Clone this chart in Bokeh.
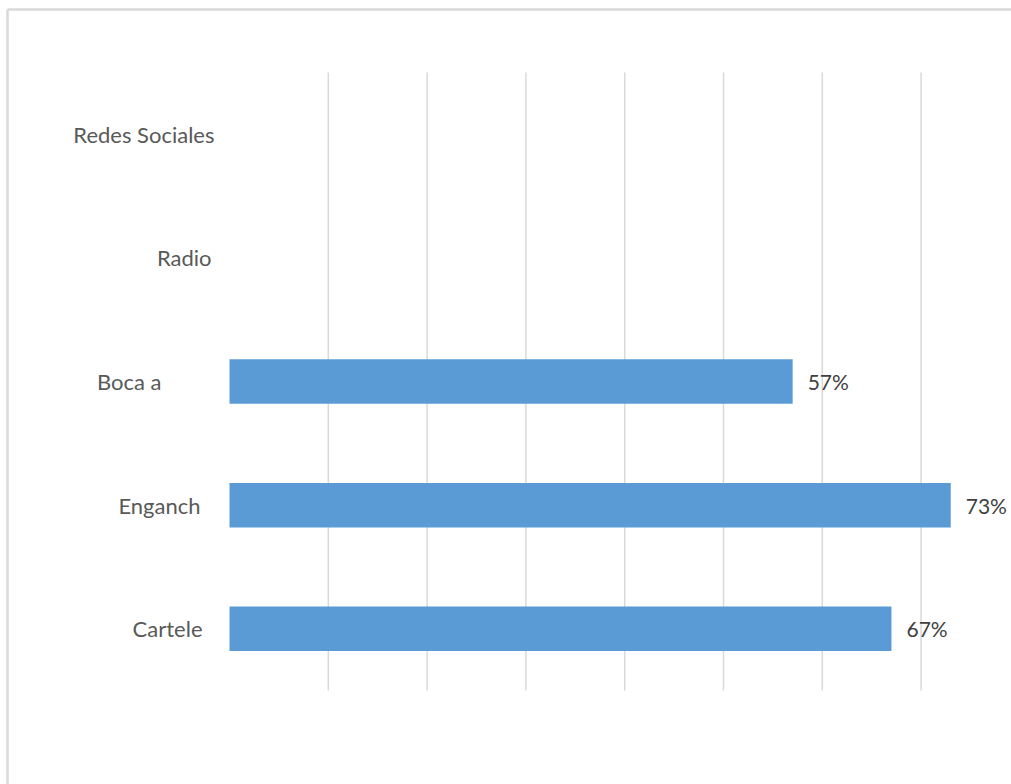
from bokeh.plotting import figure
from bokeh.models import ColumnDataSource
from bokeh.core.properties import value
from bokeh.embed import file_html
from bokeh.resources import INLINE

categories = ["Cartele", "Enganch", "Boca a", "Radio", "Redes Sociales"]
values = [67, 73, 57, None, None]
bar_labels = ["67%", "73%", "57%", "", ""]
grid_ticks = [10, 20, 30, 40, 50, 60, 70]

# style: per-label horizontal offsets of category labels (pixels)
label_offsets = [-27, -29, -68, -18, -15]

FONT = "Lato"
X0, X1 = -23.18, 79.15
Y0, Y1 = -1.26, 5.083

ypos = list(range(len(categories)))
p = figure(width=1011, height=784, x_range=(X0, X1), y_range=(Y0, Y1),
           output_backend="svg", toolbar_location=None,
           min_border_left=0, min_border_right=0, min_border_top=0, min_border_bottom=0)
p.outline_line_color = None
p.xaxis.visible = False
p.yaxis.visible = False
p.xgrid.visible = False
p.ygrid.visible = False

# chart-area border (top and left edges visible in the window)
bx = X0 + 7 / 9.88
by = Y1 - 9 / 123.6
p.segment(x0=[bx, bx], y0=[by, by], x1=[X1 + 5, bx], y1=[by, Y0 - 1],
          line_color="#d9d9d9", line_width=2.5)

# vertical gridlines spanning the category band only
p.segment(x0=grid_ticks, x1=grid_ticks, y0=[-0.5] * len(grid_ticks), y1=[4.5] * len(grid_ticks),
          line_color="#d9d9d9", line_width=1.5)

bar_y = [y for y, v in zip(ypos, values) if v is not None]
bar_v = [v for v in values if v is not None]
p.hbar(y=bar_y, left=0, right=bar_v, height=0.36,
       fill_color="#5b9bd5", line_color=None)

src = ColumnDataSource(dict(y=ypos, val=[v if v is not None else 0 for v in values],
                            lab=bar_labels, cat=categories,
                            zero=[0] * len(categories), off=label_offsets))
p.text(x="val", y="y", text="lab", source=src, x_offset=15,
       text_align="left", text_baseline="middle", text_font=value(FONT),
       text_font_size="21px", text_color="#404040")
p.text(x="zero", y="y", text="cat", source=src, x_offset="off",
       text_align="right", text_baseline="middle", text_font=value(FONT),
       text_font_size="22px", text_color="#595959")

open("out.html", "w").write(file_html(p, INLINE))
